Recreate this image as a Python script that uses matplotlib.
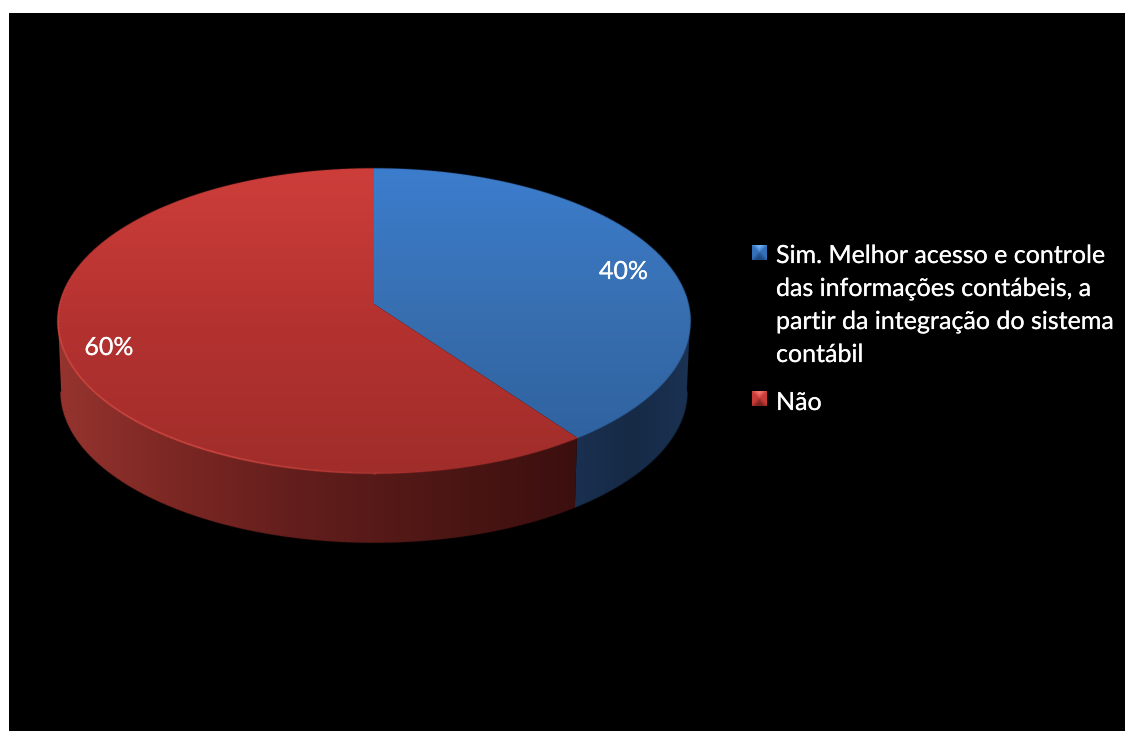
import numpy as np
import matplotlib
matplotlib.use("Agg")
import matplotlib.pyplot as plt
import matplotlib.patheffects as pe
from matplotlib.collections import LineCollection
from matplotlib.colors import LinearSegmentedColormap
from matplotlib.patches import PathPatch, Rectangle
from matplotlib.path import Path

# Survey answers
categories = ["Sim. Melhor acesso e controle\ndas informações contábeis, a\npartir da integração do sistema\ncontábil", "Não"]
shares = [40, 60]
share_labels = ["40%", "60%"]

# Disc geometry in canvas pixels (perspective view of a circular pie)
CX, CY = 374.0, 304.0
A, B, K = 314.0, 150.1, 0.1119
LOWER_SCALE, LOWER_CY = 0.99, 374.7
FACE_TOP, FACE_BOTTOM = 168, 475


def rgb(*c):
    return tuple(v / 255 for v in c)


top_stops = [
    [rgb(60, 125, 205), rgb(55, 110, 175), rgb(45, 95, 155)],
    [rgb(205, 62, 58), rgb(180, 50, 48), rgb(160, 45, 42)],
]
side_stops = [
    [(0, rgb(26, 48, 80)), (0.5, rgb(22, 42, 70)), (1, rgb(27, 50, 83))],
    [(0, rgb(150, 52, 47)), (0.21, rgb(125, 40, 36)), (0.31, rgb(115, 36, 33)),
     (0.46, rgb(98, 30, 28)), (0.76, rgb(75, 22, 20)), (1, rgb(60, 15, 15))],
]
bevel = [
    (rgb(110, 175, 245), rgb(52, 112, 185), rgb(30, 72, 128)),
    (rgb(245, 115, 110), rgb(200, 60, 56), rgb(125, 35, 32)),
]


def disc_xy(t_deg, scale=1.0, cy=CY):
    t = np.radians(t_deg)
    u, v = np.sin(t), np.cos(t)
    d = 1 + K * v
    return CX + scale * A * u / d, cy - scale * B * v / d


def gradient(ax, stops, extent, path, vertical=True):
    cmap = LinearSegmentedColormap.from_list("g", stops)
    ramp = np.linspace(0, 1, 256)
    data = ramp[:, None] if vertical else ramp[None, :]
    im = ax.imshow(data, cmap=cmap, extent=extent, aspect="auto", origin="upper", zorder=2, interpolation="bilinear")
    im.set_clip_path(PathPatch(path, transform=ax.transData))
    return cmap


def soft_edge(ax, x, y, colors, zorder):
    segs = np.stack([np.column_stack([x[:-1], y[:-1]]), np.column_stack([x[1:], y[1:]])], axis=1)
    ax.add_collection(LineCollection(segs, colors=colors, linewidths=2.0, alpha=0.22, zorder=zorder, capstyle="butt"))
    ax.add_collection(LineCollection(segs, colors=colors, linewidths=1.0, zorder=zorder + 0.1, capstyle="butt"))


fig = plt.figure(figsize=(11.25, 7.31), dpi=100, facecolor="white")
ax = fig.add_axes([0, 0, 1, 1])
ax.set_axis_off()
ax.add_patch(Rectangle((9, 13), 1116, 718, facecolor="black", edgecolor="none", zorder=0))

plt.rcParams["font.family"] = ["Lato", "DejaVu Sans"]

edges = np.concatenate([[0], np.cumsum(shares)]) / np.sum(shares) * 360

# Outer wall of the disc: runs between the two tangent points of the silhouette
tangent = np.degrees(np.arccos(-K))
for i in range(len(shares)):
    t0, t1 = max(edges[i], tangent), min(edges[i + 1], 360 - tangent)
    ts = np.linspace(t0, t1, 200)
    xt, yt = disc_xy(ts)
    xb, yb = disc_xy(ts, scale=LOWER_SCALE, cy=LOWER_CY)
    pts = np.column_stack([np.r_[xt, xb[::-1]], np.r_[yt, yb[::-1]]])
    x0, x1 = pts[:, 0].min(), pts[:, 0].max()
    cmap = gradient(ax, side_stops[i], (x0, x1, 560, 160), Path(np.vstack([pts, pts[:1]]), closed=True), vertical=False)
    soft_edge(ax, xb, yb, cmap((xb[:-1] - x0) / (x1 - x0)), 3)

# Upper face
for i in range(len(shares)):
    ts = np.linspace(edges[i], edges[i + 1], 400)
    x, y = disc_xy(ts)
    pts = np.column_stack([np.r_[CX, x, CX], np.r_[CY, y, CY]])
    cmap = gradient(ax, top_stops[i], (50, 700, FACE_BOTTOM, FACE_TOP), Path(pts, closed=True))
    # Rim follows the face gradient; the red slice catches a soft highlight on its front left
    cols = cmap((y[:-1] - FACE_TOP) / (FACE_BOTTOM - FACE_TOP))
    if i == 1:
        mids = 0.5 * (ts[:-1] + ts[1:])
        glow = np.interp(mids, [170, 205, 262, 285], [0, 0.75, 0.75, 0])[:, None]
        cols[:, :3] = cols[:, :3] * (1 - glow) + np.array(rgb(218, 78, 70)) * glow
    soft_edge(ax, x, y, cols, 4)

# Percent labels
soft = [pe.withStroke(linewidth=0.4, foreground=(1, 1, 1, 0.3))]
label_pos = [(623.5, 279), (109, 355)]
for (lx, ly), s in zip(label_pos, share_labels):
    ax.text(lx, ly, s, color="white", fontsize=18, ha="center", va="baseline", zorder=5, path_effects=soft)

# Legend: bevelled square keys and wrapped labels
swatch_y = [245, 391]
text_y = [[263, 296, 329, 362], [410]]
yy, xx = np.mgrid[-1:1:15j, -1:1:15j]
top_w = np.clip((-yy - np.abs(xx)) * 1.1 + 0.15, 0, 1)[..., None]
low_w = np.clip((yy - np.abs(xx)) * 1.1 + 0.35, 0, 1)[..., None]
for i, name in enumerate(categories):
    light, mid, dark = (np.array(c) for c in bevel[i])
    key = mid * (1 - top_w) * (1 - low_w) + light * top_w + dark * low_w
    ax.imshow(np.clip(key, 0, 1), extent=(752, 767, swatch_y[i] + 15, swatch_y[i]), aspect="auto", zorder=2, interpolation="bilinear")
    for line, ty in zip(name.split("\n"), text_y[i]):
        ax.text(776, ty, line, color="white", fontsize=18, ha="left", va="baseline", zorder=5, path_effects=soft)

ax.set_xlim(0, 1125)
ax.set_ylim(731, 0)
fig.savefig("out.png", dpi=100, facecolor="white")
